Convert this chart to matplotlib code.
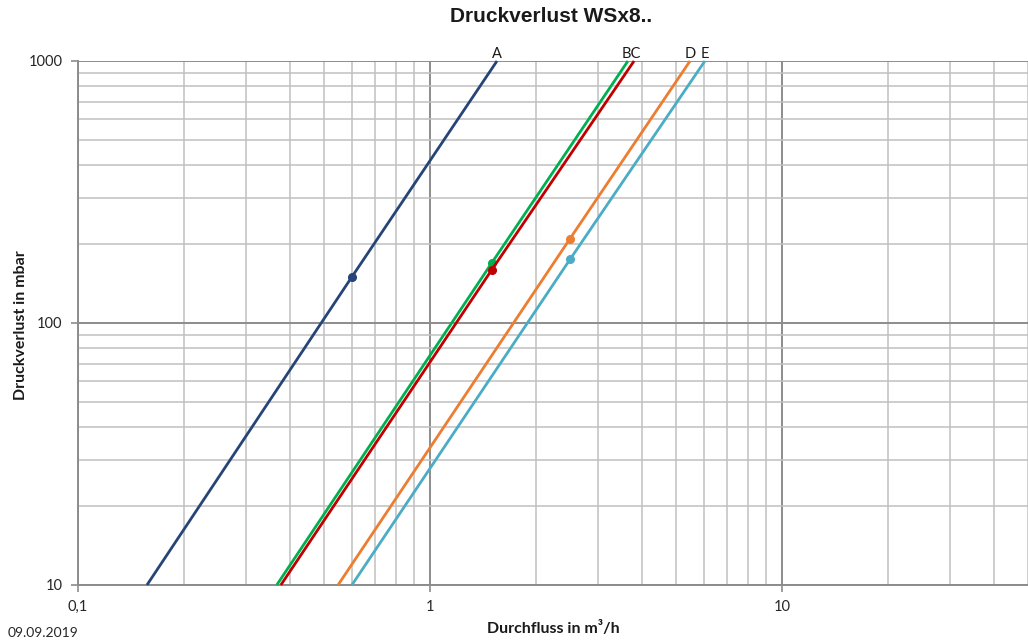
import matplotlib
matplotlib.use("Agg")
import matplotlib.pyplot as plt
from matplotlib.ticker import FixedLocator, FixedFormatter, LogLocator, NullFormatter

# Data (flow in m³/h, pressure loss in mbar)
series_names = ["A", "B", "C", "D", "E"]
flow_A = [0.157, 0.6, 1.55]
loss_A = [10, 150, 1000]
flow_B = [0.367, 1.5, 3.65]
loss_B = [10, 170, 1000]
flow_C = [0.377, 1.5, 3.80]
loss_C = [10, 160, 1000]
flow_D = [0.548, 2.5, 5.48]
loss_D = [10, 210, 1000]
flow_E = [0.600, 2.5, 6.04]
loss_E = [10, 175, 1000]
colors = ["#264478", "#00B050", "#C00000", "#ED7D31", "#4BACC6"]

x_ticks = [0.1, 1, 10]
x_tick_labels = ["0,1", "1", "10"]
y_ticks = [10, 100, 1000]
y_tick_labels = ["10", "100", "1000"]

fig = plt.figure(figsize=(10.28, 6.43), dpi=100)
ax = fig.add_axes([78 / 1028, 1 - 585 / 643, 1 - 78 / 1028, (585 - 61) / 643])
ax.set_xscale("log")
ax.set_yscale("log")
ax.set_xlim(0.1, 50)
ax.set_ylim(10, 1000)

flows = [flow_A, flow_B, flow_C, flow_D, flow_E]
losses = [loss_A, loss_B, loss_C, loss_D, loss_E]
for q, p, c in zip(flows, losses, colors):
    ax.plot(q, p, color=c, lw=2.0, marker="o", markersize=5.5, markevery=[1],
            solid_capstyle="butt", zorder=3, clip_on=False)

# grid
ax.xaxis.set_minor_locator(LogLocator(base=10, subs=range(2, 10)))
ax.yaxis.set_minor_locator(LogLocator(base=10, subs=range(2, 10)))
ax.xaxis.set_minor_formatter(NullFormatter())
ax.yaxis.set_minor_formatter(NullFormatter())
ax.grid(which="major", color="#8c8c8c", lw=1.4, zorder=1)
ax.grid(which="minor", color="#c0c0c0", lw=1.1, zorder=1)

ax.xaxis.set_major_locator(FixedLocator(x_ticks))
ax.xaxis.set_major_formatter(FixedFormatter(x_tick_labels))
ax.yaxis.set_major_locator(FixedLocator(y_ticks))
ax.yaxis.set_major_formatter(FixedFormatter(y_tick_labels))

for s in ["top", "right"]:
    ax.spines[s].set_visible(False)
for s in ["left", "bottom"]:
    ax.spines[s].set_color("#8c8c8c")
    ax.spines[s].set_linewidth(1.4)

ax.tick_params(which="major", length=5, width=1.2, color="#8c8c8c",
               labelsize=10.5, labelcolor="#262626", pad=6)
ax.tick_params(which="minor", length=0)
for lbl in ax.get_xticklabels() + ax.get_yticklabels():
    lbl.set_fontfamily("Lato")

# series labels at the top of the lines
ax.text(1.55, 1000, "A", ha="center", va="bottom", fontsize=10.5, family="Lato", color="#1a1a1a")
ax.text((3.65 * 3.80) ** 0.5, 1000, "BC", ha="center", va="bottom", fontsize=10.5, family="Lato", color="#1a1a1a")
ax.text(5.48, 1000, "D", ha="center", va="bottom", fontsize=10.5, family="Lato", color="#1a1a1a")
ax.text(6.04, 1000, "E", ha="center", va="bottom", fontsize=10.5, family="Lato", color="#1a1a1a")

fig.text(551 / 1028, 1 - 16 / 643, "Druckverlust WSx8..", ha="center", va="center",
         fontsize=15, fontweight="bold", family="Liberation Sans", color="#1a1a1a")
fig.text(553 / 1028, 1 - 629 / 643, "Durchfluss in m³/h", ha="center", va="center",
         fontsize=11.5, fontweight="bold", family="Lato", color="#1a1a1a")
fig.text(21 / 1028, 1 - 325 / 643, "Druckverlust in mbar", ha="center", va="center",
         rotation=90, fontsize=11.5, fontweight="bold", family="Lato", color="#1a1a1a")
fig.text(8 / 1028, 1 - 633 / 643, "09.09.2019", ha="left", va="center",
         fontsize=10, family="Lato", color="#262626")

fig.savefig("out.png", dpi=100)
